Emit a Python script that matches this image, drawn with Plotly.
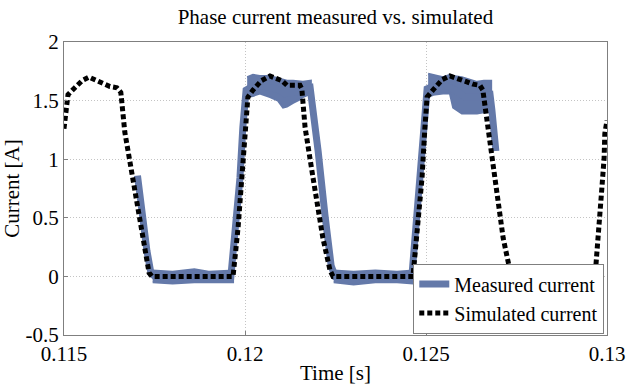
import plotly.graph_objects as go

# ---------------- data ----------------
# Simulated current (black dotted)
sim_t = [0.11500, 0.11506, 0.11511, 0.11530, 0.11550, 0.11569, 0.11591, 0.11608, 0.11627, 0.11646,
         0.11657, 0.11668, 0.11682, 0.11696, 0.11710, 0.11724, 0.11735, 0.11743, 0.11967, 0.11981,
         0.11992, 0.12000, 0.12008, 0.12022, 0.12045, 0.12069, 0.12091, 0.12102, 0.12116, 0.12135,
         0.12152, 0.12157, 0.12166, 0.12188, 0.12215, 0.12235, 0.12243, 0.12464, 0.12478, 0.12489,
         0.12497, 0.12503, 0.12519, 0.12545, 0.12566, 0.12590, 0.12613, 0.12630, 0.12649, 0.12657,
         0.12671, 0.12696, 0.12713, 0.12732, 0.12743, 0.12967, 0.12972, 0.12978, 0.12986, 0.12992,
         0.12994, 0.13000]
sim_i = [1.26, 1.48, 1.55, 1.61, 1.67, 1.70, 1.67, 1.64, 1.62, 1.61,
         1.57, 1.23, 0.97, 0.75, 0.46, 0.20, 0.03, 0.00, 0.00, 0.42,
         0.84, 1.27, 1.53, 1.59, 1.67, 1.71, 1.68, 1.67, 1.63, 1.63,
         1.63, 1.60, 1.27, 0.84, 0.33, 0.05, 0.00, 0.00, 0.42, 0.84,
         1.27, 1.53, 1.59, 1.68, 1.71, 1.69, 1.66, 1.64, 1.63, 1.59,
         1.27, 0.71, 0.33, 0.05, 0.00, 0.00, 0.24, 0.50, 0.76, 1.01,
         1.22, 1.33]

# Measured current (centre line)
meas_t = [0.11703, 0.11716, 0.11729, 0.11740, 0.11751, 0.11961, 0.11975, 0.11986, 0.11994, 0.12003,
          0.12014, 0.12041, 0.12069, 0.12097, 0.12110, 0.12138, 0.12180, 0.12185, 0.12202, 0.12221,
          0.12238, 0.12249, 0.12461, 0.12472, 0.12483, 0.12494, 0.12503, 0.12525, 0.12552, 0.12580,
          0.12608, 0.12649, 0.12677, 0.12682, 0.12693]
meas_i = [0.86, 0.52, 0.22, 0.03, 0.00, 0.00, 0.42, 0.84, 1.27, 1.59,
          1.61, 1.63, 1.61, 1.59, 1.56, 1.57, 1.61, 1.50, 1.07, 0.52,
          0.09, 0.00, 0.00, 0.42, 0.84, 1.27, 1.60, 1.63, 1.63, 1.59,
          1.53, 1.53, 1.55, 1.42, 1.07]

# Measured current noise envelope, plateaus
top2_t = [0.12006, 0.12022, 0.12041, 0.12069, 0.12091, 0.12105, 0.12116, 0.12133, 0.12152, 0.12160, 0.12182]
top2_hi = [1.70, 1.72, 1.71, 1.71, 1.69, 1.68, 1.67, 1.67, 1.66, 1.66, 1.67]
top2_lo = [1.53, 1.54, 1.56, 1.53, 1.50, 1.44, 1.45, 1.48, 1.51, 1.53, 1.56]

top3_t = [0.12506, 0.12520, 0.12547, 0.12566, 0.12575, 0.12599, 0.12620, 0.12641, 0.12660, 0.12680]
top3_hi = [1.73, 1.72, 1.70, 1.72, 1.71, 1.70, 1.68, 1.66, 1.67, 1.67]
top3_lo = [1.53, 1.55, 1.56, 1.56, 1.44, 1.39, 1.39, 1.39, 1.40, 1.40]

low1_t = [0.11745, 0.11800, 0.11860, 0.11900, 0.11967]
low1_hi = [0.05, 0.04, 0.06, 0.04, 0.05]
low1_lo = [-0.05, -0.06, -0.05, -0.05, -0.05]

low2_t = [0.12245, 0.12300, 0.12360, 0.12420, 0.12462]
low2_hi = [0.05, 0.04, 0.05, 0.04, 0.05]
low2_lo = [-0.05, -0.07, -0.05, -0.05, -0.06]

x_ticks = [0.115, 0.12, 0.125, 0.13]
x_tick_text = ["0.115", "0.12", "0.125", "0.13"]
y_ticks = [-0.5, 0, 0.5, 1, 1.5, 2]
y_tick_text = ["-0.5", "0", "0.5", "1", "1.5", "2"]

# ---------------- styling ----------------
BLUE = "#6479A9"
FONT = "Liberation Serif"
AXIS = "#7f7f7f"

fig = go.Figure()

for bt, bhi, blo in [(low1_t, low1_hi, low1_lo), (top2_t, top2_hi, top2_lo),
                     (low2_t, low2_hi, low2_lo), (top3_t, top3_hi, top3_lo)]:
    fig.add_trace(go.Scatter(
        x=bt + bt[::-1], y=bhi + blo[::-1], mode="lines", fill="toself",
        fillcolor=BLUE, line=dict(color=BLUE, width=2), showlegend=False,
        hoverinfo="skip"))

fig.add_trace(go.Scatter(
    x=meas_t, y=meas_i, mode="lines", name="Measured current",
    line=dict(color=BLUE, width=7)))

fig.add_trace(go.Scatter(
    x=sim_t, y=sim_i, mode="lines", name="Simulated current",
    line=dict(color="black", width=5, dash="5px,3px")))

fig.update_layout(
    width=627, height=385,
    margin=dict(l=64, r=20, t=42, b=50),
    paper_bgcolor="white", plot_bgcolor="white",
    font=dict(family=FONT, size=21, color="black"),
    title=dict(text="Phase current measured vs. simulated", x=0.535, xanchor="center",
               y=1 - 17 / 385, yanchor="middle", font=dict(family=FONT, size=21, color="black")),
    legend=dict(x=0.995, y=0.005, xanchor="right", yanchor="bottom",
                bgcolor="white", bordercolor=AXIS, borderwidth=1,
                font=dict(family=FONT, size=20, color="black"),
                tracegroupgap=0, itemwidth=30),
    showlegend=True,
)

fig.update_xaxes(
    range=[0.115, 0.13], tickvals=x_ticks, ticktext=x_tick_text, automargin=False,
    showgrid=True, gridcolor="#c4c4c4", griddash="1px,2px", gridwidth=1,
    showline=True, linecolor=AXIS, linewidth=1, mirror=True,
    ticks="inside", ticklen=4, tickcolor=AXIS, zeroline=False,
    title=dict(text="Time [s]", standoff=2, font=dict(family=FONT, size=21)),
    tickfont=dict(family=FONT, size=21),
)
fig.update_yaxes(
    range=[-0.5, 2], tickvals=y_ticks, ticktext=y_tick_text, automargin=False,
    showgrid=True, gridcolor="#c4c4c4", griddash="1px,2px", gridwidth=1,
    showline=True, linecolor=AXIS, linewidth=1, mirror=True,
    ticks="inside", ticklen=4, tickcolor=AXIS, zeroline=False,
    title=dict(text="Current [A]", standoff=4, font=dict(family=FONT, size=21)),
    tickfont=dict(family=FONT, size=21),
)

fig.write_html("out.html")
